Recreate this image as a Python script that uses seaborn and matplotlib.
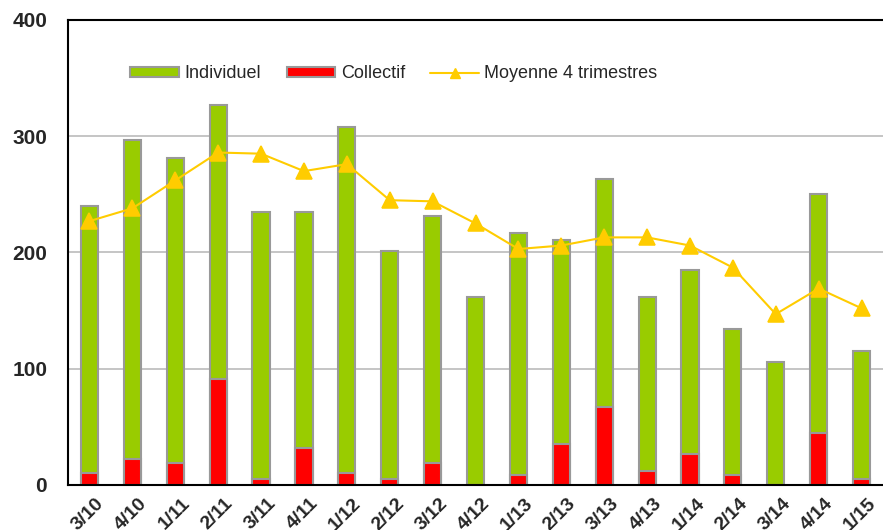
import numpy as np
import pandas as pd
import matplotlib
matplotlib.use("Agg")
import matplotlib.pyplot as plt
import matplotlib.transforms as mtransforms
from matplotlib.patches import Patch
from matplotlib.lines import Line2D
import seaborn as sns

# data
quarters = ["3/10", "4/10", "1/11", "2/11", "3/11", "4/11", "1/12", "2/12", "3/12", "4/12",
            "1/13", "2/13", "3/13", "4/13", "1/14", "2/14", "3/14", "4/14", "1/15"]
individuel = [230, 275, 262, 236, 230, 203, 298, 196, 212, 162,
              208, 176, 196, 150, 158, 125, 106, 205, 110]
collectif = [10, 22, 19, 91, 5, 32, 10, 5, 19, 0,
             9, 35, 67, 12, 27, 9, 0, 45, 5]
moyenne = [227, 238, 262, 286, 285, 270, 276, 245, 244, 225,
           203, 206, 213, 213, 206, 187, 147, 169, 152]

green = "#99CC00"
red = "#FF0000"
yellow = "#FFCC00"
edge = "#999999"

sns.set_theme(style="white")
plt.rcParams["font.family"] = ["Liberation Sans", "DejaVu Sans"]

df = pd.DataFrame({"trimestre": quarters, "Individuel": individuel,
                   "Collectif": collectif, "Moyenne": moyenne})
df["total"] = df["Individuel"] + df["Collectif"]

fig = plt.figure(figsize=(8.83, 5.30), dpi=100)
ax = fig.add_axes([68 / 883, 45 / 530, 815 / 883, 465 / 530])

# stacked bars: green total first, red part drawn over it
sns.barplot(data=df, x="trimestre", y="total", color=green, saturation=1,
            width=0.4, edgecolor=edge, linewidth=1.5, errorbar=None, ax=ax)
sns.barplot(data=df, x="trimestre", y="Collectif", color=red, saturation=1,
            width=0.4, edgecolor=edge, linewidth=1.5, errorbar=None, ax=ax)

# rolling 4-quarter average
sns.pointplot(data=df, x="trimestre", y="Moyenne", color=yellow, markers="^",
              markersize=11, linewidth=1.5, ax=ax, zorder=4)

ax.set_xlim(-0.5, len(quarters) - 0.5)
ax.set_ylim(0, 400)
ax.set_yticks([0, 100, 200, 300, 400])
ax.set_xlabel("")
ax.set_ylabel("")

ax.yaxis.grid(True, color="#c0c0c0", linewidth=1.3)
ax.set_axisbelow(True)
for side in ["left", "bottom", "top"]:
    ax.spines[side].set_color("black")
    ax.spines[side].set_linewidth(1.5)
ax.spines["right"].set_visible(False)

ax.tick_params(axis="both", length=0)
ax.tick_params(axis="y", pad=15)
for lbl in ax.get_yticklabels():
    lbl.set_fontsize(15)
    lbl.set_fontweight("bold")

ax.tick_params(axis="x", pad=7)
offset = mtransforms.ScaledTranslation(6 / 100, 0, fig.dpi_scale_trans)
for lbl in ax.get_xticklabels():
    lbl.set_fontsize(14)
    lbl.set_fontweight("bold")
    lbl.set_rotation(45)
    lbl.set_ha("right")
    lbl.set_va("top")
    lbl.set_rotation_mode("anchor")
    lbl.set_transform(lbl.get_transform() + offset)

handles = [
    Patch(facecolor=green, edgecolor=edge, linewidth=1.5, label="Individuel"),
    Patch(facecolor=red, edgecolor=edge, linewidth=1.5, label="Collectif"),
    Line2D([0], [0], color=yellow, linewidth=1.5, marker="^", markersize=7,
           label="Moyenne 4 trimestres"),
]
ax.legend(handles=handles, loc="center", bbox_to_anchor=(0.40, 0.884), ncol=3,
          frameon=False, fontsize=13, handlelength=2.7, handleheight=0.5,
          handletextpad=0.3, columnspacing=1.4)

fig.savefig("out.png", dpi=100)
